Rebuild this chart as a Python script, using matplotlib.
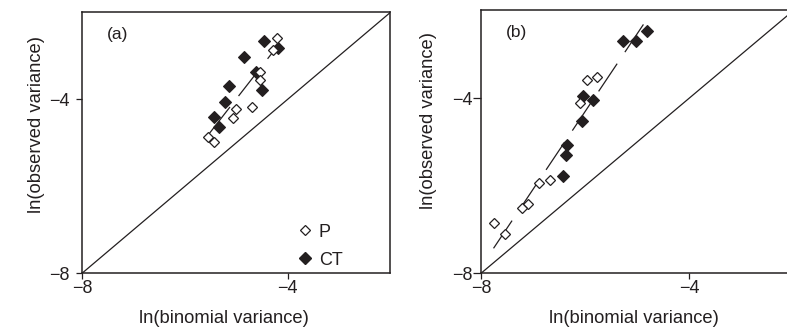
import matplotlib.pyplot as plt
from matplotlib.lines import Line2D

plt.rcParams['font.family'] = ['Liberation Sans', 'DejaVu Sans']
plt.rcParams['lines.scale_dashes'] = False

INK = '#231f20'

# --- panel (a): points ---
a_p_x = [-4.21, -4.28, -4.54, -4.54, -5.00, -5.06, -4.69, -5.54, -5.43]
a_p_y = [-2.58, -2.87, -3.37, -3.56, -4.22, -4.44, -4.18, -4.87, -4.97]
a_ct_x = [-4.45, -4.19, -4.84, -4.62, -5.15, -4.50, -5.21, -5.44, -5.33]
a_ct_y = [-2.66, -2.81, -3.03, -3.38, -3.69, -3.79, -4.07, -4.40, -4.63]
a_fit_x = [-5.52, -4.18]
a_fit_y = [-4.78, -2.75]

# --- panel (b) ---
b_p_x = [-5.97, -5.77, -6.10, -6.68, -6.88, -7.09, -7.21, -7.76, -7.54]
b_p_y = [-3.58, -3.53, -4.11, -5.87, -5.93, -6.42, -6.51, -6.86, -7.10]
b_ct_x = [-5.27, -5.03, -4.81, -6.05, -5.86, -6.07, -6.34, -6.37, -6.43]
b_ct_y = [-2.69, -2.69, -2.46, -3.96, -4.05, -4.52, -5.07, -5.31, -5.78]
b_fit_x = [-7.76, -4.82]
b_fit_y = [-7.43, -2.21]

lims = [-8, -2]
ticks = [-8, -4]
tick_labels = ['\u22128', '\u22124']

fig = plt.figure(figsize=(7.87, 3.32), dpi=100)
ax1 = fig.add_axes([0.1042, 0.1768, 0.3919, 0.786])
ax2 = fig.add_axes([0.6112, 0.1768, 0.3972, 0.792])

panels = [
    (ax1, a_p_x, a_p_y, a_ct_x, a_ct_y, a_fit_x, a_fit_y, '(a)'),
    (ax2, b_p_x, b_p_y, b_ct_x, b_ct_y, b_fit_x, b_fit_y, '(b)'),
]

for ax, px, py, cx, cy, fx, fy, lab in panels:
    ax.plot(lims, lims, color=INK, lw=0.9)
    ax.plot(fx, fy, color=INK, lw=0.9, dashes=(24, 10))
    ax.plot(cx, cy, 'D', ms=6.0, mfc=INK, mec=INK, mew=0.8, ls='none')
    ax.plot(px, py, 'D', ms=5.5, mfc='white', mec=INK, mew=0.9, ls='none')
    ax.set_xlim(lims)
    ax.set_ylim(lims)
    ax.set_xticks(ticks)
    ax.set_xticklabels(tick_labels)
    ax.set_yticks(ticks)
    ax.set_yticklabels(tick_labels)
    ax.tick_params(direction='out', length=4, width=0.9, color=INK,
                   labelsize=13, labelcolor=INK)
    ax.tick_params(axis='x', pad=1)
    for s in ax.spines.values():
        s.set_linewidth(1.1)
        s.set_color(INK)
    ax.set_xlabel('ln(binomial variance)', fontsize=13.2, color=INK)
    ax.set_ylabel('ln(observed variance)', fontsize=13.2, color=INK)
    ax.text(0.08, 0.915, lab, transform=ax.transAxes, fontsize=12.5,
            color=INK, ha='left', va='center')

ax1.tick_params(axis='y', pad=5)
ax2.tick_params(axis='y', pad=0.5, length=5.5)
ax1.xaxis.set_label_coords(0.46, -0.14)
ax2.xaxis.set_label_coords(0.489, -0.14)
ax1.yaxis.set_label_coords(-0.12, 0.57)
ax2.yaxis.set_label_coords(-0.141, 0.583)

handles = [
    Line2D([], [], marker='D', ms=5.5, mfc='white', mec=INK, mew=0.9, ls='none'),
    Line2D([], [], marker='D', ms=6.0, mfc=INK, mec=INK, ls='none'),
]
ax1.legend(handles, ['P', 'CT'], loc='upper left', bbox_to_anchor=(0.7, 0.19),
           frameon=False, fontsize=13, handlelength=0.8, handletextpad=0.35,
           labelspacing=0.6, borderpad=0, borderaxespad=0, labelcolor=INK)

fig.savefig('out.png', dpi=100)
